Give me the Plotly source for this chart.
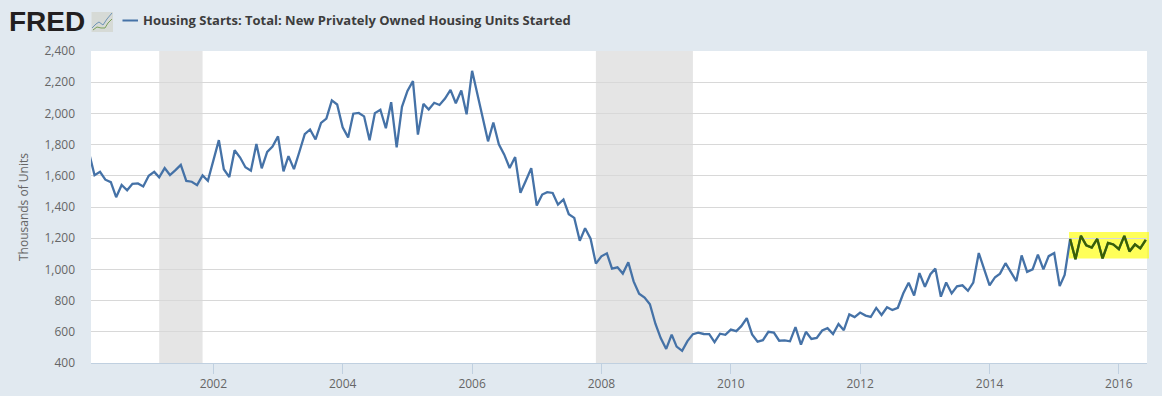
import pandas as pd
import plotly.graph_objects as go

series_name = "Housing Starts: Total: New Privately Owned Housing Units Started"
axis_title = "Thousands of Units"

y2000 = [1737, 1604, 1626, 1575, 1559, 1463, 1541, 1507, 1549, 1551, 1532]
y2001 = [1600, 1625, 1590, 1649, 1605, 1636, 1670, 1567, 1562, 1540, 1602, 1568]
y2002 = [1698, 1829, 1642, 1592, 1764, 1717, 1655, 1633, 1804, 1648, 1753, 1788]
y2003 = [1853, 1629, 1726, 1643, 1751, 1867, 1897, 1833, 1939, 1967, 2083, 2057]
y2004 = [1911, 1846, 1998, 2003, 1981, 1828, 2002, 2024, 1905, 2072, 1782, 2042]
y2005 = [2144, 2207, 1864, 2061, 2025, 2068, 2054, 2095, 2151, 2065, 2147, 1994]
y2006 = [2273, 2119, 1969, 1821, 1942, 1802, 1737, 1650, 1720, 1491, 1570, 1649]
y2007 = [1409, 1480, 1495, 1490, 1415, 1448, 1354, 1330, 1183, 1264, 1197, 1037]
y2008 = [1084, 1103, 1005, 1013, 973, 1046, 923, 844, 820, 777, 652, 560]
y2009 = [490, 582, 505, 478, 540, 585, 594, 586, 585, 534, 588, 581]
y2010 = [614, 604, 636, 687, 583, 537, 546, 600, 595, 543, 545, 539]
y2011 = [630, 518, 600, 554, 561, 608, 623, 585, 650, 610, 711, 694]
y2012 = [723, 704, 695, 753, 708, 757, 740, 754, 847, 915, 833, 976]
y2013 = [889, 969, 1005, 825, 916, 846, 891, 898, 863, 915, 1105, 1003]
y2014 = [897, 950, 973, 1040, 984, 925, 1090, 984, 1000, 1095, 1000, 1085]
y2015 = [1105, 893, 965, 1195, 1065, 1215, 1155, 1140, 1195, 1070, 1170, 1160]
y2016 = [1130, 1215, 1115, 1160, 1135, 1190]

values = (y2000 + y2001 + y2002 + y2003 + y2004 + y2005 + y2006 + y2007 + y2008
          + y2009 + y2010 + y2011 + y2012 + y2013 + y2014 + y2015 + y2016)
dates = pd.date_range("2000-02-01", periods=len(values), freq="MS")

recessions = [("2001-03-01", "2001-11-01"), ("2007-12-01", "2009-06-01")]
highlight_start = "2015-04-01"
y_ticks = list(range(400, 2401, 200))
x_ticks = ["%d-01-01" % y for y in range(2002, 2017, 2)]
x_tick_labels = [str(y) for y in range(2002, 2017, 2)]

BG = "#e1e9f0"
LINE = "#4572a7"
W, H = 1162, 396
L, R, T, B = 91, 1147.5, 51, 363


def px(x):
    return (x - L) / (R - L)


def py(y):
    return (B - y) / (B - T)


def poly(points):
    return "M" + " L".join("%.5f,%.5f" % (px(a), py(b)) for a, b in points)


mask = dates >= pd.Timestamp(highlight_start)

fig = go.Figure()
fig.add_trace(go.Scatter(x=dates, y=values, mode="lines", name=series_name,
                         line=dict(color=LINE, width=2.3), showlegend=False))
fig.add_trace(go.Scatter(x=dates[mask], y=[v for v, m in zip(values, mask) if m],
                         mode="lines", name="Highlighted", line=dict(color="#3a6000", width=2.3),
                         showlegend=False))

shapes = []
for a, b in recessions:
    shapes.append(dict(type="rect", xref="x", yref="paper", x0=a, x1=b, y0=0, y1=1,
                       fillcolor="#e4e4e4", opacity=0.95, line_width=0, layer="below"))
# yellow highlight box, slightly overflowing the plot area on the right
shapes.append(dict(type="rect", xref="paper", yref="paper", x0=px(1069.5), x1=px(1149.5),
                   y0=py(258.5), y1=py(232), fillcolor="rgba(255,255,0,0.65)", line_width=0,
                   layer="below"))
# legend swatch
shapes.append(dict(type="line", xref="paper", yref="paper", x0=px(122.5), x1=px(138),
                   y0=py(20.5), y1=py(20.5), line=dict(color=LINE, width=2)))
# FRED logo icon
shapes.append(dict(type="rect", xref="paper", yref="paper", x0=px(91.5), x1=px(113),
                   y0=py(32), y1=py(12), fillcolor="#d6dad6", line_width=0))
shapes.append(dict(type="path", xref="paper", yref="paper",
                   path=poly([(92, 28), (96, 24), (99, 22), (103, 25), (107, 19), (112, 13)]),
                   line=dict(color="#6d93b5", width=1)))
shapes.append(dict(type="path", xref="paper", yref="paper",
                   path=poly([(93, 30), (97, 27), (101, 28), (105, 28), (108, 23), (112, 19)]),
                   line=dict(color="#7ba05b", width=1)))

annotations = [
    dict(text="<b>FRED</b>", xref="paper", yref="paper", x=px(6.5), y=py(21.5), xanchor="left",
         yanchor="middle", showarrow=False, align="left",
         font=dict(family="Liberation Sans", size=28, color="#231f20")),
    dict(text="<b>" + series_name + "</b>", xref="paper", yref="paper", x=px(141.5), y=py(20.5),
         xanchor="left", yanchor="middle", showarrow=False,
         font=dict(family="Open Sans", size=13, color="#3d3d3d")),
    dict(text=axis_title, xref="paper", yref="paper", x=px(23), y=py(207), textangle=-90,
         xanchor="center", yanchor="middle", showarrow=False,
         font=dict(family="Open Sans", size=12, color="#666666")),
]

fig.update_layout(
    width=W, height=H,
    margin=dict(l=L, r=W - R, t=T, b=H - B, pad=0, autoexpand=False),
    paper_bgcolor=BG, plot_bgcolor="#ffffff",
    showlegend=False, shapes=shapes, annotations=annotations,
    font=dict(family="Open Sans", size=12, color="#666666"),
    xaxis=dict(type="date", range=["2000-02-10", "2016-06-08"], tickvals=x_ticks,
               ticktext=x_tick_labels, showgrid=False, zeroline=False,
               showline=True, linecolor="#c0d0e0", linewidth=1,
               ticks="outside", ticklen=10, tickcolor="#c0d0e0", tickwidth=1,
               tickfont=dict(family="Open Sans", size=12, color="#666666")),
    yaxis=dict(range=[400, 2400], tickvals=y_ticks, tickformat=",d", showgrid=True,
               gridcolor="#d8d8d8", gridwidth=1, zeroline=False, showline=False,
               ticks="", ticklabelstandoff=15,
               tickfont=dict(family="Open Sans", size=12, color="#666666")),
)

fig.write_html("out.html", config=dict(displayModeBar=False),
               post_script="document.body.style.margin='0';")
